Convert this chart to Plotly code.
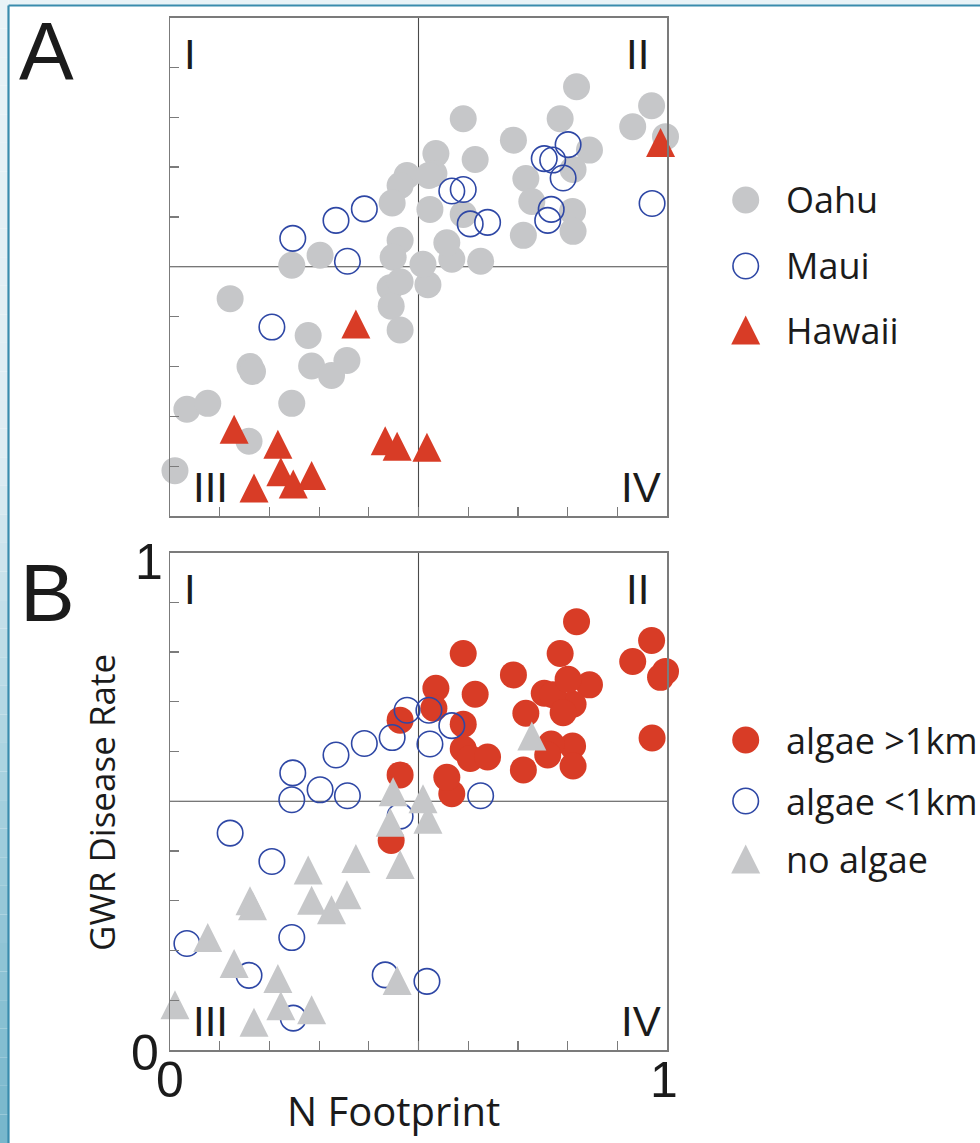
import plotly.graph_objects as go

# ---------------- data ----------------
# each point: N footprint (x), GWR disease rate (y), island, algae class
nfoot = [
    # Oahu
    0.818, 0.969, 0.997, 0.931, 0.785, 0.691, 0.590, 0.844, 0.535, 0.614,
    0.477, 0.463, 0.447, 0.531, 0.521, 0.716, 0.811, 0.728, 0.810, 0.811,
    0.711, 0.625, 0.567, 0.557, 0.590, 0.523, 0.463, 0.449, 0.519, 0.443,
    0.463, 0.445, 0.463, 0.302, 0.245, 0.121, 0.278, 0.161, 0.166, 0.285,
    0.325, 0.356, 0.034, 0.076, 0.245, 0.159, 0.010, 0.509,
    # Maui
    0.247, 0.334, 0.391, 0.357, 0.205, 0.567, 0.590, 0.604, 0.639, 0.753,
    0.770, 0.801, 0.791, 0.767, 0.760, 0.970,
    # Hawaii
    0.987, 0.374, 0.129, 0.217, 0.223, 0.248, 0.285, 0.169, 0.433, 0.457, 0.517,
]
gwr = [
    # Oahu
    0.861, 0.823, 0.761, 0.781, 0.797, 0.754, 0.797, 0.734, 0.727, 0.715,
    0.683, 0.663, 0.628, 0.687, 0.683, 0.677, 0.695, 0.631, 0.611, 0.571,
    0.563, 0.511, 0.515, 0.548, 0.605, 0.615, 0.553, 0.519, 0.464, 0.458,
    0.470, 0.421, 0.373, 0.523, 0.503, 0.436, 0.362, 0.300, 0.290, 0.301,
    0.282, 0.312, 0.214, 0.226, 0.226, 0.150, 0.091, 0.505,
    # Maui
    0.557, 0.593, 0.616, 0.511, 0.379, 0.652, 0.655, 0.586, 0.589, 0.717,
    0.714, 0.745, 0.678, 0.615, 0.593, 0.627,
    # Hawaii
    0.749, 0.385, 0.174, 0.144, 0.089, 0.064, 0.081, 0.056, 0.151, 0.140, 0.138,
]
island = ["Oahu"] * 48 + ["Maui"] * 16 + ["Hawaii"] * 11
algae = [
    # Oahu
    "far", "far", "far", "far", "far", "far", "far", "far", "far", "far",
    "near", "far", "near", "far", "near", "far", "far", "none", "far", "far",
    "far", "near", "far", "far", "far", "near", "far", "none", "none", "none",
    "near", "far", "none", "near", "near", "near", "none", "none", "none", "none",
    "none", "none", "near", "none", "near", "near", "none", "none",
    # Maui
    "near", "near", "near", "near", "near", "near", "far", "far", "far", "far",
    "far", "far", "far", "far", "far", "far",
    # Hawaii
    "far", "none", "none", "none", "none", "near", "none", "none", "near", "none", "near",
]

legend_a = ["Oahu", "Maui", "Hawaii"]
legend_b = ["algae >1km", "algae <1km", "no algae"]
x_title = "N Footprint"
y_title = "GWR Disease Rate"

# ---------------- layout geometry (pixels) ----------------
W, H = 980, 1143
PX_L, PX_R = 170, 667
A_TOP, A_BOT = 17.5, 516
B_TOP, B_BOT = 552.5, 1050

def fx(p):
    return p / W

def fy(p):
    return 1 - p / H

GRAY = "#c6c7c9"
BLUE = "#2e47a5"
RED = "#d83c26"
INK = "#1b1b1b"
FRAME = "#7b7b7b"

CIRC = 27
OPEN = 25.5
TRI = 29
tri_off = (TRI / 2) / (A_BOT - A_TOP)   # arrow-up is drawn from its tip

def pick(key, val):
    idx = [i for i, k in enumerate(key) if k == val]
    return [nfoot[i] for i in idx], [gwr[i] for i in idx]

def scatter(x, y, xa, ya, marker):
    return go.Scatter(x=x, y=y, mode="markers", xaxis=xa, yaxis=ya, cliponaxis=False,
                      hoverinfo="skip", marker=marker)

m_gray_c = dict(symbol="circle", size=CIRC, color=GRAY, line=dict(width=0))
m_red_c = dict(symbol="circle", size=CIRC, color=RED, line=dict(width=0))
m_open = dict(symbol="circle-open", size=OPEN, color=BLUE, line=dict(width=1.6, color=BLUE))
m_red_t = dict(symbol="arrow-up", size=TRI, color=RED, line=dict(width=0))
m_gray_t = dict(symbol="arrow-up", size=TRI, color=GRAY, line=dict(width=0))

fig = go.Figure()

# ---- panel A (by island)
ox, oy = pick(island, "Oahu")
mx, my = pick(island, "Maui")
hx, hy = pick(island, "Hawaii")
fig.add_trace(scatter(ox, oy, "x", "y", m_gray_c))
fig.add_trace(scatter(mx, my, "x", "y", m_open))
fig.add_trace(scatter(hx, [v + tri_off for v in hy], "x", "y", m_red_t))

# ---- panel B (by algae)
fx_, fy_ = pick(algae, "far")
nx_, ny_ = pick(algae, "near")
zx_, zy_ = pick(algae, "none")
fig.add_trace(scatter(fx_, fy_, "x2", "y2", m_red_c))
fig.add_trace(scatter(nx_, ny_, "x2", "y2", m_open))
fig.add_trace(scatter(zx_, [v + tri_off for v in zy_], "x2", "y2", m_gray_t))

# ---- legend markers (overlay axis covering the page)
LEG_X = fx(745.7)
leg_off = (TRI / 2) / H
leg_rows_a = [fy(200), fy(266), fy(330)]
leg_rows_b = [fy(740), fy(801), fy(859)]
fig.add_trace(scatter([LEG_X], [leg_rows_a[0]], "x3", "y3", m_gray_c))
fig.add_trace(scatter([LEG_X], [leg_rows_a[1]], "x3", "y3", m_open))
fig.add_trace(scatter([LEG_X], [leg_rows_a[2] + leg_off], "x3", "y3", m_red_t))
fig.add_trace(scatter([LEG_X], [leg_rows_b[0]], "x3", "y3", m_red_c))
fig.add_trace(scatter([LEG_X], [leg_rows_b[1]], "x3", "y3", m_open))
fig.add_trace(scatter([LEG_X], [leg_rows_b[2] + leg_off], "x3", "y3", m_gray_t))

ax_common = dict(range=[0, 1], showgrid=False, zeroline=False, showline=True, mirror=True,
                 linecolor=FRAME, linewidth=1.5, ticks="inside", tick0=0, dtick=0.1,
                 ticklen=9, tickwidth=1.2, tickcolor=FRAME, showticklabels=False, fixedrange=True)

dom_x = [fx(PX_L), fx(PX_R)]
fig.update_layout(
    width=W, height=H, margin=dict(l=0, r=0, t=0, b=0),
    paper_bgcolor="white", plot_bgcolor="rgba(0,0,0,0)", showlegend=False,
    xaxis=dict(domain=dom_x, anchor="y", **ax_common),
    yaxis=dict(domain=[fy(A_BOT), fy(A_TOP)], anchor="x", **ax_common),
    xaxis2=dict(domain=dom_x, anchor="y2", **ax_common),
    yaxis2=dict(domain=[fy(B_BOT), fy(B_TOP)], anchor="x2", **ax_common),
    xaxis3=dict(domain=[0, 1], range=[0, 1], visible=False, anchor="y3", fixedrange=True),
    yaxis3=dict(domain=[0, 1], range=[0, 1], visible=False, anchor="x3", fixedrange=True),
)

shapes = []
# quadrant cross lines
for xr, yr in (("x", "y"), ("x2", "y2")):
    shapes.append(dict(type="line", xref=xr, yref=yr, x0=0.5, x1=0.5, y0=0, y1=1,
                       line=dict(color="#4a4a4a", width=1.1), layer="below"))
    shapes.append(dict(type="line", xref=xr, yref=yr, x0=0, x1=1, y0=0.5, y1=0.5,
                       line=dict(color="#4a4a4a", width=1.1), layer="below"))

# page decoration: pale margin + gradient strip on the left, teal frame
def lerp(c0, c1, t):
    return tuple(round(a + (b - a) * t) for a, b in zip(c0, c1))

stops = [(0, (233, 243, 247)), (450, (222, 237, 243)), (800, (165, 208, 222)), (1143, (118, 182, 203))]
n = 40
for k in range(n):
    y0 = H * k / n
    y1 = H * (k + 1) / n
    ym = (y0 + y1) / 2
    for (a, ca), (b, cb) in zip(stops[:-1], stops[1:]):
        if a <= ym <= b:
            c = lerp(ca, cb, (ym - a) / (b - a))
            break
    shapes.append(dict(type="rect", xref="paper", yref="paper", x0=0, x1=fx(8.5),
                       y0=fy(y1), y1=fy(y0), line=dict(width=0), fillcolor="rgb(%d,%d,%d)" % c, layer="above"))
shapes.append(dict(type="rect", xref="paper", yref="paper", x0=fx(8.5), x1=1, y0=fy(5.5), y1=1,
                   line=dict(width=0), fillcolor="rgb(233,243,247)", layer="above"))
shapes.append(dict(type="line", xref="paper", yref="paper", x0=fx(8.5), x1=1, y0=fy(5.5), y1=fy(5.5),
                   line=dict(color="#3a8cad", width=2.2), layer="above"))
shapes.append(dict(type="line", xref="paper", yref="paper", x0=fx(8.5), x1=fx(8.5), y0=0, y1=fy(5.5),
                   line=dict(color="#3a8cad", width=2.2), layer="above"))
fig.update_layout(shapes=shapes)

ann = []

def text(t, x, y, size, family="Liberation Sans, Arial, sans-serif", angle=0, xanchor="center"):
    ann.append(dict(text=t, x=fx(x), y=fy(y), xref="paper", yref="paper", showarrow=False,
                    xanchor=xanchor, yanchor="middle", textangle=angle,
                    font=dict(size=size, family=family, color=INK)))

# panel letters
text("A", 46.5, 50, 82)
text("B", 47, 592, 82)
# quadrant numerals
for top, bot in ((A_TOP, A_BOT), (B_TOP, B_BOT)):
    text("I", 189.5, top + 37, 42)
    text("II", 637.5, top + 37, 42)
    text("III", 210, bot - 28.5, 42)
    text("IV", 640.5, bot - 28.5, 42)
# tick labels (panel B only)
text("1", 149, 562, 50)
text("0", 144.5, 1052.5, 50)
text("0", 170, 1079.5, 50)
text("1", 664, 1079.5, 50)
# axis titles
sans = "Open Sans, Noto Sans, sans-serif"
text(y_title, 101, 803, 35, family=sans, angle=-90)
text(x_title, 393, 1110, 40, family=sans)
# legends
for lab, yy in zip(legend_a, (200, 266, 330)):
    text(lab, 784, yy, 36, family=sans, xanchor="left")
for lab, yy in zip(legend_b, (740, 801, 859)):
    text(lab, 784, yy, 36, family=sans, xanchor="left")

fig.update_layout(annotations=ann)
fig.write_html("out.html", config={"displayModeBar": False, "staticPlot": True},
               post_script="document.body.style.margin='0';document.body.style.overflow='hidden';")
